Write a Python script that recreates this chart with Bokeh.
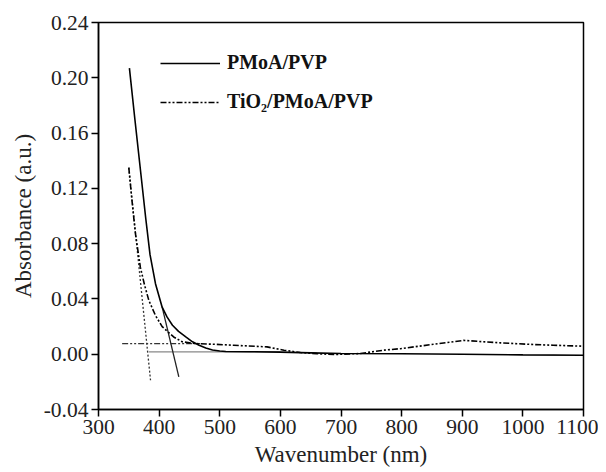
from bokeh.plotting import figure
from bokeh.models import Legend, LegendItem, FixedTicker, NumeralTickFormatter
from bokeh.embed import file_html
from bokeh.resources import INLINE

# PMoA/PVP spectrum
pmoa_x = [351, 360, 370, 378, 385, 394, 405, 413, 422, 432, 444, 455, 466, 477, 488,
          500, 510, 550, 600, 650, 700, 800, 900, 1000, 1100]
pmoa_y = [0.207, 0.170, 0.130, 0.098, 0.072, 0.051, 0.034, 0.027, 0.021, 0.0165,
          0.0125, 0.009, 0.0065, 0.0045, 0.003, 0.0023, 0.002, 0.0018, 0.0015, 0.001, 0.0005,
          0.0003, 0.0, -0.0005, -0.0007]

# TiO2/PMoA/PVP spectrum
tio2_x = [350, 355, 361, 369, 376, 383, 394, 405, 415, 424, 438, 460, 490, 523, 578, 606, 633, 660,
          688, 732, 770, 798, 853, 902, 963, 1018, 1050, 1100]
tio2_y = [0.135, 0.112, 0.087, 0.063, 0.050, 0.039, 0.028, 0.020, 0.016, 0.0125, 0.009, 0.0077, 0.0072,
          0.0065, 0.0053, 0.0029, 0.0012, 0.0004, -0.0002, 0.0005, 0.0029, 0.004, 0.0072, 0.010,
          0.0082, 0.007, 0.0065, 0.0058]

# tangent / baseline construction lines
pmoa_tan_x = [405, 432.5]
pmoa_tan_y = [0.034, -0.0164]
pmoa_base_x = [383, 600]
pmoa_base_y = [0.0017, 0.0017]
tio2_tan_x = [350, 385.8]
tio2_tan_y = [0.135, -0.0188]
tio2_base_x = [339, 470]
tio2_base_y = [0.0077, 0.0077]

x_ticks = [300, 400, 500, 600, 700, 800, 900, 1000, 1100]
y_ticks = [-0.04, 0.0, 0.04, 0.08, 0.12, 0.16, 0.20, 0.24]

FONT = "Liberation Serif"

p = figure(width=598, height=470, x_range=(300, 1100), y_range=(-0.04, 0.24),
           output_backend="svg", toolbar_location=None,
           min_border_left=98, min_border_right=15, min_border_top=22, min_border_bottom=61)
p.grid.visible = False
p.outline_line_color = "black"
p.outline_line_width = 1.5
p.background_fill_color = "white"
p.border_fill_color = "white"

for ax in (p.xaxis[0], p.yaxis[0]):
    ax.axis_line_width = 1.5
    ax.axis_line_color = "black"
    ax.major_tick_line_width = 1.5
    ax.major_tick_out = 7
    ax.major_tick_in = 0
    ax.minor_tick_line_color = None
    ax.major_label_text_font = FONT
    ax.major_label_text_font_size = "21.5px"
    ax.major_label_text_color = "#222222"
    ax.axis_label_text_font = FONT
    ax.axis_label_text_font_size = "23px"
    ax.axis_label_text_font_style = "normal"
    ax.axis_label_text_color = "#222222"

p.xaxis.ticker = FixedTicker(ticks=x_ticks)
p.yaxis.ticker = FixedTicker(ticks=y_ticks)
p.yaxis.formatter = NumeralTickFormatter(format="0.00")
p.xaxis.axis_label = "Wavenumber (nm)"
p.yaxis.axis_label = "Absorbance (a.u.)"
p.yaxis.major_label_standoff = 3
p.xaxis.major_label_standoff = 3

# construction lines
p.line(pmoa_base_x, pmoa_base_y, line_color="#888888", line_width=1.2)
p.line(pmoa_tan_x, pmoa_tan_y, line_color="#222222", line_width=1.3)
p.line(tio2_tan_x, tio2_tan_y, line_color="#333333", line_width=1.3, line_dash="2 2")
p.line(tio2_base_x, tio2_base_y, line_color="#333333", line_width=1.3, line_dash="6 2 2 2 2 2")

r1 = p.line(pmoa_x, pmoa_y, line_color="black", line_width=1.6)
r2 = p.line(tio2_x, tio2_y, line_color="black", line_width=1.6, line_dash="6 2 2 2 2 2")

legend = Legend(items=[LegendItem(label="PMoA/PVP", renderers=[r1]),
                       LegendItem(label="TiO₂/PMoA/PVP", renderers=[r2])],
                location=(62, 296), padding=0, margin=0, spacing=16,
                glyph_width=60, glyph_height=20, label_height=20, label_standoff=7,
                border_line_color=None, background_fill_alpha=0,
                label_text_font=FONT, label_text_font_size="20px",
                label_text_font_style="bold", label_text_color="#111111")
p.add_layout(legend)

open("out.html", "w").write(file_html(p, INLINE))
